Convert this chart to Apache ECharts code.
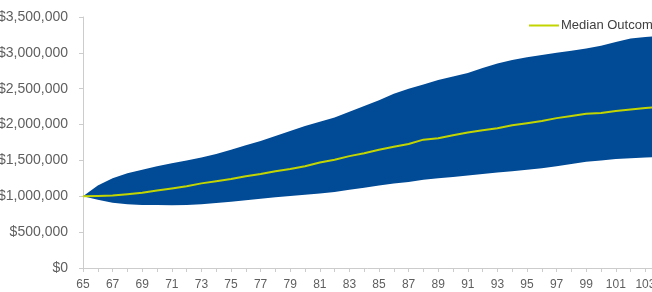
<!DOCTYPE html>
<html>
<head>
<meta charset="utf-8">
<script src="https://cdn.jsdelivr.net/npm/echarts@6/dist/echarts.min.js"></script>
<style>html,body{margin:0;padding:0;background:#fff}#c{width:652px;height:292px}</style>
</head>
<body>
<div id="c"></div>
<script>
var ages = [];
for (var a = 65; a <= 105; a++) ages.push(String(a));

var lowerBound = [1.00,0.95,0.91,0.89,0.88,0.88,0.875,0.88,0.89,0.905,0.925,0.945,0.965,0.985,1.005,1.02,1.04,1.06,1.09,1.12,1.15,1.18,1.20,1.23,1.25,1.27,1.29,1.31,1.33,1.35,1.37,1.39,1.42,1.45,1.48,1.50,1.52,1.53,1.54,1.55,1.56];
var upperBound = [1.00,1.15,1.25,1.32,1.37,1.42,1.46,1.50,1.54,1.59,1.65,1.71,1.77,1.84,1.91,1.98,2.04,2.10,2.18,2.26,2.34,2.43,2.50,2.56,2.62,2.67,2.72,2.79,2.85,2.90,2.94,2.97,3.00,3.03,3.06,3.10,3.15,3.20,3.22,3.24,3.26];
var medianOutcome = [1.00,1.005,1.01,1.03,1.05,1.08,1.11,1.14,1.18,1.21,1.24,1.28,1.31,1.35,1.38,1.42,1.47,1.51,1.56,1.60,1.65,1.69,1.73,1.79,1.81,1.85,1.89,1.92,1.95,1.99,2.02,2.05,2.09,2.12,2.15,2.16,2.19,2.21,2.23,2.25,2.27];
var M = 1000000;

var lowerVals = lowerBound.map(function(v){return Math.round(v*M);});
var bandVals = upperBound.map(function(v,i){return Math.round((v - lowerBound[i])*M);});
var medVals = medianOutcome.map(function(v){return Math.round(v*M);});

var chart = echarts.init(document.getElementById('c'), null, {renderer:'canvas'});
var axisGray = '#cccccc';
var textGray = '#5f5f5f';
chart.setOption({
  animation: false,
  backgroundColor: '#ffffff',
  textStyle: {fontFamily: 'Liberation Sans, Arial, sans-serif'},
  grid: {left: 83, top: 17, bottom: 24, right: -23, outerBoundsMode: 'none', containLabel: false},
  legend: {
    data: ['Median Outcome'],
    left: 524, top: 14,
    icon: 'rect', itemWidth: 30, itemHeight: 2, itemGap: 0,
    textStyle: {color: '#404040', fontSize: 13, padding: [0,0,0,-3]}
  },
  xAxis: {
    type: 'category', data: ages, boundaryGap: false,
    axisLine: {lineStyle: {color: axisGray, width: 1}},
    axisTick: {show: true, length: 4, interval: 0, lineStyle: {color: axisGray}},
    axisLabel: {interval: 1, color: textGray, fontSize: 12, margin: 11},
    splitLine: {show: false}
  },
  yAxis: {
    type: 'value', min: 0, max: 3500000, interval: 500000,
    axisLine: {show: true, lineStyle: {color: axisGray, width: 1}},
    axisTick: {show: true, length: 4, lineStyle: {color: axisGray}},
    axisLabel: {color: textGray, fontSize: 14, margin: 15,
      formatter: function(v){ return '$' + v.toLocaleString('en-US'); }},
    splitLine: {show: false}
  },
  series: [
    {name: 'lower', type: 'line', stack: 'band', data: lowerVals, symbol: 'none',
     lineStyle: {width: 0, opacity: 0}, silent: true, z: 1},
    {name: 'band', type: 'line', stack: 'band', data: bandVals, symbol: 'none',
     lineStyle: {width: 0, opacity: 0}, areaStyle: {color: '#004a96', opacity: 1}, silent: true, z: 1},
    {name: 'Median Outcome', type: 'line', data: medVals, symbol: 'none',
     lineStyle: {color: '#c3d500', width: 2}, itemStyle: {color: '#c3d500'}, z: 3}
  ]
});
</script>
</body>
</html>
